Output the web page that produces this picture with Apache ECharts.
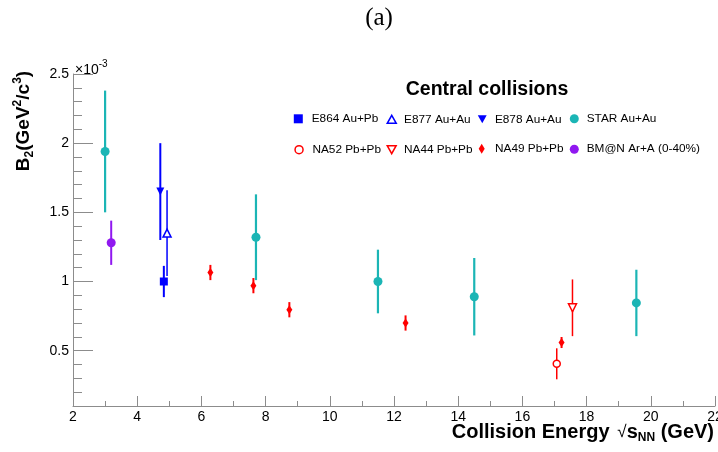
<!DOCTYPE html>
<html><head><meta charset="utf-8">
<script src="https://cdn.jsdelivr.net/npm/echarts@6/dist/echarts.min.js"></script>
<style>html,body{margin:0;padding:0;background:#fff}#c{width:718px;height:452px}</style>
</head><body><div id="c"></div>
<script>
// ---- tick labels ----
const xMin = 2, xMax = 22, xStep = 2;
const yMajorTicks = [0.5, 1, 1.5, 2, 2.5];
const yMinorTicks = [0.2, 0.3, 0.4, 0.6, 0.7, 0.8, 0.9, 1.1, 1.2, 1.3, 1.4, 1.6, 1.7, 1.8, 1.9, 2.1, 2.2, 2.3, 2.4];

// ---- data (B2 in units of 1e-3 GeV^2/c^3) ----
const e864X = [4.83], e864Y = [1.0], e864Err = [0.113];
const e877X = [4.93], e877Y = [1.35], e877Err = [0.31];
const e878X = [4.72], e878Y = [1.65], e878Err = [0.35];
const starX = [3.0, 7.7, 11.5, 14.5, 19.55];
const starY = [1.94, 1.32, 1.0, 0.89, 0.845];
const starErr = [0.44, 0.31, 0.23, 0.28, 0.24];
const na52X = [17.07], na52Y = [0.405], na52Err = [0.112];
const na44X = [17.56], na44Y = [0.81], na44Err = [0.205];
const na49X = [6.28, 7.62, 8.74, 12.36, 17.22];
const na49Y = [1.065, 0.97, 0.796, 0.70, 0.559];
const na49Err = [0.055, 0.055, 0.055, 0.055, 0.04];
const bmnX = [3.19], bmnY = [1.28], bmnErr = [0.16];

const FONT = '"Liberation Sans", Arial, Helvetica, sans-serif';
const TEAL = '#1bb5b5', BLUE = '#0000ff', RED = '#ff0000', PURPLE = '#9018f0';
const DOWN_TRI = 'path://M0,0L10,0L5,9Z';

const groups = [
  {name: 'E864 Au+Pb', xs: e864X, ys: e864Y, es: e864Err, color: BLUE, symbol: 'rect', size: 8, filled: true, lw: 2, rot: 0},
  {name: 'E877 Au+Au', xs: e877X, ys: e877Y, es: e877Err, color: BLUE, symbol: 'triangle', size: 8, filled: false, lw: 1.5, rot: 0},
  {name: 'E878 Au+Au', xs: e878X, ys: e878Y, es: e878Err, color: BLUE, symbol: 'triangle', size: 8, filled: true, lw: 2, rot: 180},
  {name: 'STAR Au+Au', xs: starX, ys: starY, es: starErr, color: TEAL, symbol: 'circle', size: 9, filled: true, lw: 2.2, rot: 0},
  {name: 'NA52 Pb+Pb', xs: na52X, ys: na52Y, es: na52Err, color: RED, symbol: 'circle', size: 7, filled: false, lw: 1.5, rot: 0},
  {name: 'NA44 Pb+Pb', xs: na44X, ys: na44Y, es: na44Err, color: RED, symbol: 'triangle', size: 8, filled: false, lw: 1.5, rot: 180},
  {name: 'NA49 Pb+Pb', xs: na49X, ys: na49Y, es: na49Err, color: RED, symbol: 'diamond', size: [6, 9], filled: true, lw: 2, rot: 0},
  {name: 'BM@N Ar+A (0-40%)', xs: bmnX, ys: bmnY, es: bmnErr, color: PURPLE, symbol: 'circle', size: 9, filled: true, lw: 2, rot: 0}
];

// legend layout: [center x of marker, row center y, icon, w, h, text start x]
const legendLayout = [
  [298.3, 117.3, 'rect', 9, 9, 311.7],
  [391, 117.3, 'triangle', 9, 8, 403.3],
  [482.3, 117.3, DOWN_TRI, 9, 8, 495],
  [574.3, 117.3, 'circle', 9, 9, 586.7],
  [298.3, 147.7, 'circle', 8, 8, 311.7],
  [391, 147.7, DOWN_TRI, 9, 8, 403.3],
  [481.7, 147.7, 'diamond', 6, 10, 495],
  [574.3, 147.7, 'circle', 9, 9, 586.7]
];

const series = [];
groups.forEach(g => {
  series.push({
    type: 'custom',
    name: g.name + ' err',
    coordinateSystem: 'cartesian2d',
    silent: true,
    z: 1,
    data: g.xs.map((x, i) => [x, g.ys[i] - g.es[i], g.ys[i] + g.es[i]]),
    encode: {x: 0, y: [1, 2]},
    renderItem: (params, api) => {
      const lo = api.coord([api.value(0), api.value(1)]);
      const hi = api.coord([api.value(0), api.value(2)]);
      return {type: 'line', shape: {x1: lo[0], y1: lo[1], x2: hi[0], y2: hi[1]},
        style: {stroke: g.color, lineWidth: g.lw}};
    }
  });
  series.push({
    type: 'scatter',
    name: g.name,
    z: 3,
    symbol: g.symbol,
    symbolSize: g.size,
    symbolRotate: g.rot,
    itemStyle: g.filled ? {color: g.color, opacity: 1}
                        : {color: '#ffffff', borderColor: g.color, borderWidth: 1.5, opacity: 1},
    emphasis: {disabled: true},
    data: g.xs.map((x, i) => [x, g.ys[i]])
  });
});

const legends = groups.map((g, i) => {
  const L = legendLayout[i];
  const pad = L[5] - (L[0] + L[3] / 2) - 5;
  return {
    left: L[0] - L[3] / 2, top: L[1] - L[4] / 2,
    itemWidth: L[3], itemHeight: L[4], padding: 0,
    selectedMode: false,
    textStyle: {fontFamily: FONT, fontSize: 11.8, color: '#000', padding: [0, 0, 0, pad]},
    data: [{name: g.name, icon: L[2],
      itemStyle: g.filled ? {color: g.color, borderWidth: 0}
                          : {color: '#ffffff', borderColor: g.color, borderWidth: 1.5}}]
  };
});

const axisGray = '#8c8c8c';
const option = {
  animation: false,
  backgroundColor: '#ffffff',
  grid: {left: 73, right: 3, top: 74, bottom: 46, containLabel: false, outerBoundsMode: 'none'},
  legend: legends,
  xAxis: {
    type: 'value', min: xMin, max: xMax, interval: xStep,
    axisLine: {show: true, lineStyle: {color: axisGray, width: 1}},
    axisTick: {show: true, inside: true, length: 10, lineStyle: {color: axisGray}},
    minorTick: {show: true, splitNumber: 2, length: 5, lineStyle: {color: axisGray}},
    axisLabel: {fontFamily: FONT, fontSize: 14, color: '#000', margin: 4, hideOverlap: false},
    splitLine: {show: false}
  },
  yAxis: [{
    type: 'value', min: 0.1, max: 2.5, position: 'left',
    axisLine: {show: true, lineStyle: {color: axisGray, width: 1}},
    axisTick: {show: true, inside: true, length: 20, customValues: yMajorTicks, lineStyle: {color: axisGray}},
    axisLabel: {fontFamily: FONT, fontSize: 14, color: '#000', margin: 4, customValues: yMajorTicks,
      formatter: v => String(v)},
    splitLine: {show: false}
  }, {
    type: 'value', min: 0.1, max: 2.5, position: 'left',
    axisLine: {show: false},
    axisTick: {show: true, inside: true, length: 9, customValues: yMinorTicks, lineStyle: {color: axisGray}},
    axisLabel: {show: false},
    splitLine: {show: false}
  }],
  graphic: [
    {type: 'text', x: 379, y: 18, style: {text: '(a)', font: '25px "Liberation Serif", "Times New Roman", serif',
      fill: '#000', align: 'center', verticalAlign: 'middle'}},
    {type: 'text', x: 487, y: 90, style: {text: 'Central collisions', font: 'bold 19.5px ' + FONT,
      fill: '#000', align: 'center', verticalAlign: 'middle'}},
    {type: 'text', x: 75, y: 68, style: {
      text: '{a|×10}{s|-3}', align: 'left', verticalAlign: 'middle', fill: '#000',
      rich: {
        a: {fontFamily: FONT, fontSize: 14, lineHeight: 18, verticalAlign: 'bottom', fill: '#000'},
        s: {fontFamily: FONT, fontSize: 10, lineHeight: 10, verticalAlign: 'top', fill: '#000'}
      }}},
    {type: 'text', x: 24, y: 121, rotation: Math.PI / 2, style: {
      text: '{a|B}{b|2}{a|(GeV}{p|2}{a|/c}{p|3}{a|)}', align: 'center', verticalAlign: 'middle', fill: '#000',
      rich: {
        a: {fontFamily: FONT, fontWeight: 'bold', fontSize: 19, lineHeight: 24, fill: '#000'},
        b: {fontFamily: FONT, fontWeight: 'bold', fontSize: 12, lineHeight: 12, verticalAlign: 'bottom', fill: '#000'},
        p: {fontFamily: FONT, fontWeight: 'bold', fontSize: 12, lineHeight: 12, verticalAlign: 'top', fill: '#000'}
      }}},
    {type: 'text', x: 714, y: 432, style: {
      text: '{a|Collision Energy }{g| }{r|√}{a|s}{b|NN}{a| (GeV)}', align: 'right', verticalAlign: 'middle', fill: '#000',
      rich: {
        a: {fontFamily: FONT, fontWeight: 'bold', fontSize: 20, lineHeight: 24, fill: '#000'},
        g: {fontFamily: FONT, fontSize: 8, lineHeight: 24, fill: '#000'},
        r: {fontFamily: FONT, fontSize: 17, lineHeight: 24, fill: '#000'},
        b: {fontFamily: FONT, fontWeight: 'bold', fontSize: 12, lineHeight: 12, verticalAlign: 'bottom', fill: '#000'}
      }}}
  ],
  series: series
};

const chart = echarts.init(document.getElementById('c'), null, {renderer: 'canvas'});
chart.setOption(option);
</script>
</body></html>
